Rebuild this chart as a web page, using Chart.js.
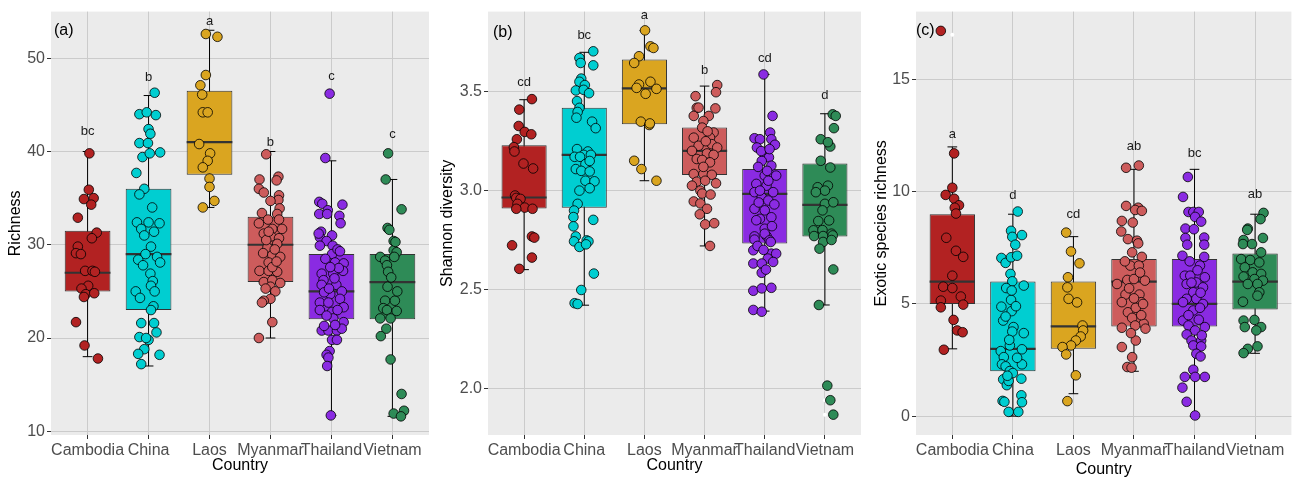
<!DOCTYPE html>
<html><head><meta charset="utf-8">
<script src="https://cdn.jsdelivr.net/npm/chart.js@4.4.0/dist/chart.umd.min.js"></script>
<style>
html,body{margin:0;padding:0;background:#fff;}
#wrap{position:relative;width:1297px;height:479px;overflow:hidden;}
canvas{position:absolute;top:0;}
</style></head><body>
<div id="wrap">
<canvas id="ca" width="436" height="479" style="left:0px"></canvas>
<canvas id="cb" width="434" height="479" style="left:436px"></canvas>
<canvas id="cc" width="427" height="479" style="left:870px"></canvas>
</div>
<script>
const countries = ["Cambodia","China","Laos","Myanmar","Thailand","Vietnam"];
const colors = ["#B22222","#00CED1","#DAA520","#CD5C5C","#8A2BE2","#2E8B57"];

// ---------- Panel (a) Richness ----------
const richLo  = [18, 17, 34, 20, 11.7, 11.6];
const richQ1  = [25, 23, 37.5, 26, 22, 22];
const richMed = [27, 29, 41, 30, 25, 26];
const richQ3  = [31.5, 36, 46.5, 33, 29, 29];
const richHi  = [40, 46, 53, 40, 39, 37];
const richLetters = ["bc","b","a","b","c","c"];
const richLetterY = [42.1, 47.9, 54.0, 41.0, 48.1, 41.8];
const richTicks = [10,20,30,40,50];
const richOutliers = [[4,46.2],[5,39.8]];
const richVals = [
 [39.8,35.9,34.9,35.0,34.3,32.9,31.3,30.7,29.8,29.1,29.0,27.2,27.2,27.1,25.6,25.3,24.7,24.4,24.8,21.7,19.2,17.8],
 [46.3,44.0,44.2,43.9,42.4,41.9,40.9,40.9,39.4,39.8,39.9,37.7,36.0,35.4,34.0,32.4,32.4,32.3,31.7,31.4,31.0,29.8,29.0,28.7,28.4,28.1,27.8,26.9,26.1,25.6,25.0,25.0,24.3,23.4,23.0,21.6,21.6,20.1,19.8,20.6,20.0,18.8,18.3,18.2,17.2],
 [52.6,52.3,48.2,47.1,46.1,44.2,44.2,40.8,39.8,39.0,38.3,37.1,36.2,34.7,34.0],
 [39.7,37.3,36.9,37.0,36.0,35.6,35.3,34.8,34.7,33.9,33.4,33.3,32.7,32.3,32.7,31.7,31.7,31.2,30.9,30.7,30.1,29.7,29.1,28.9,28.7,28.1,27.2,27.2,27.1,26.0,26.2,25.9,25.5,25.0,24.2,24.0,23.8,21.7,20.0,29.5,30.5,27.6,25.3,28.2,31.4],
 [46.2,39.3,34.6,34.4,34.3,33.7,33.3,33.3,33.1,32.3,31.4,31.0,30.8,31.2,30.4,29.9,29.9,29.0,28.1,28.0,26.9,26.9,27.2,26.2,25.7,25.7,25.0,24.7,23.8,23.8,24.2,23.0,23.3,22.8,22.1,21.7,20.8,20.8,20.8,21.0,19.8,19.8,18.6,18.2,17.9,17.0,11.7,29.5,28.5,27.5,27.6,26.4,24.9,23.0,22.4,29.3,25.3,21.4,21.3],
 [39.8,37.0,33.8,31.8,31.6,30.4,28.7,28.3,29.4,29.2,27.8,28.7,27.1,25.5,24.0,24.0,23.2,23.0,22.9,22.1,22.1,21.0,20.2,17.7,14.0,11.9,12.2,11.6,30.3,26.5,25.0]
];
const richJit = [
 [.03,.02,-.06,.10,.06,-.16,.15,.07,-.16,-.19,-.11,-.04,.08,.12,.01,-.10,-.03,-.06,.11,-.19,-.05,.17],
 [.10,-.15,-.03,.12,0,.03,-.15,-.01,-.10,.02,.19,-.20,-.07,-.15,.06,-.19,0,.18,-.12,.09,-.07,.04,-.05,.14,-.17,.19,-.09,.03,.07,.04,.10,-.21,-.14,.08,.04,-.12,.09,-.15,0,.13,-.04,-.07,-.17,.18,-.12],
 [-.06,.13,-.06,-.15,-.12,-.11,-.03,-.17,.01,-.03,-.11,0,0,.08,-.11],
 [-.07,.13,.10,-.18,-.19,-.11,.14,.13,0,.15,-.14,.11,-.04,-.19,.14,.19,.03,-.11,.01,.14,.11,-.05,-.12,.03,.16,-.03,-.18,-.03,.11,-.11,.03,.16,0,.08,0,-.11,-.14,.03,-.19,.07,-.07,.03,-.08,.10,-.03],
 [-.03,-.10,-.20,-.15,.18,-.06,-.20,-.07,.13,.15,-.17,.01,-.19,-.21,-.08,.02,-.19,.01,.06,.20,-.16,.03,.19,-.13,.08,-.16,.17,-.02,-.19,-.05,.14,-.19,.20,.01,.03,.20,-.16,-.05,.09,.17,.01,.09,-.03,-.08,-.05,-.07,-.01,.10,-.10,.12,-.02,.05,-.12,.10,-.08,.14,-.04,.06,-.12],
 [-.07,-.11,.15,-.08,-.05,.02,-.20,-.12,.02,.07,-.09,.03,-.07,-.08,-.12,.04,-.15,-.09,.07,-.20,-.03,-.10,-.19,-.03,.15,.02,.19,.14,.05,-.02,.08]
];

// ---------- Panel (b) Shannon diversity ----------
const shanLo  = [2.60, 2.42, 3.05, 2.72, 2.39, 2.421];
const shanQ1  = [2.91, 2.913, 3.336, 3.079, 2.732, 2.768];
const shanMed = [2.965, 3.181, 3.517, 3.201, 2.983, 2.928];
const shanQ3  = [3.23, 3.419, 3.663, 3.319, 3.109, 3.137];
const shanHi  = [3.46, 3.70, 3.81, 3.529, 3.588, 3.389];
const shanLetters = ["cd","bc","a","b","cd","d"];
const shanLetterY = [3.549, 3.784, 3.886, 3.608, 3.671, 3.482];
const shanTicks = [2.0, 2.5, 3.0, 3.5];
const shanOutliers = [[5,2.013],[5,1.939],[5,1.866]];
const shanVals = [
 [3.463,3.41,3.327,3.297,3.285,3.26,3.22,3.198,3.137,3.112,2.975,2.963,2.958,2.933,2.914,2.908,2.908,2.768,2.762,2.723,2.661,2.604],
 [3.705,3.671,3.646,3.634,3.567,3.551,3.534,3.507,3.51,3.493,3.453,3.419,3.398,3.369,3.349,3.316,3.21,3.198,3.181,3.181,3.171,3.171,3.134,3.15,3.109,3.1,3.097,3.05,3.047,3.0,3.012,2.933,2.899,2.866,2.852,2.819,2.768,2.748,2.743,2.743,2.715,2.728,2.58,2.497,2.43,2.426],
 [3.811,3.73,3.722,3.68,3.646,3.537,3.551,3.515,3.49,3.349,3.332,3.34,3.151,3.109,3.05,3.52],
 [3.534,3.498,3.478,3.419,3.416,3.378,3.378,3.352,3.319,3.294,3.268,3.268,3.227,3.235,3.218,3.201,3.188,3.181,3.16,3.155,3.143,3.084,3.084,3.08,3.045,3.05,3.037,3.025,3.0,2.985,2.945,2.935,2.908,2.829,2.835,2.72,2.88,2.98,3.12,3.30,3.42,3.25],
 [3.588,3.378,3.294,3.265,3.26,3.26,3.218,3.232,3.168,3.168,3.15,3.126,3.12,3.076,3.076,3.034,3.025,2.992,2.992,2.967,2.95,2.908,2.9,2.857,2.865,2.807,2.768,2.77,2.752,2.782,2.748,2.698,2.681,2.681,2.656,2.631,2.631,2.639,2.584,2.493,2.505,2.508,2.396,2.387,3.05,2.94,2.82,2.72,3.10,2.70,2.93,3.2,3.21,2.85,2.6,2.74,3.0],
 [3.386,3.378,3.316,3.26,3.223,3.245,3.151,3.117,3.025,3.017,3.0,2.992,2.933,2.941,2.9,2.846,2.849,2.799,2.8,2.782,2.77,2.77,2.773,2.74,2.75,2.706,2.601,2.421,2.013,1.939,1.866]
];
const shanJit = [
 [.13,-.08,-.09,.01,.12,-.12,-.17,-.16,-.01,.15,-.15,-.13,-.06,-.11,.01,.14,-.13,.13,.17,-.20,.13,-.08],
 [.15,-.08,-.06,.15,-.05,-.08,.01,-.14,-.01,.08,-.12,-.08,-.11,-.13,.13,.19,-.12,.06,-.01,.11,-.16,-.07,.02,.09,-.14,-.05,.09,.02,.17,-.08,.09,-.11,-.17,-.18,.15,-.18,-.14,.04,-.17,.07,-.08,.03,.16,-.05,-.16,-.11],
 [.01,.10,.15,-.09,-.17,-.09,.10,.20,.02,-.06,.08,.09,-.17,-.05,.20,-.13],
 [.21,.19,-.15,-.13,.18,-.18,.07,-.02,-.04,.15,-.18,.09,-.10,.12,.21,-.21,.04,.15,-.13,-.04,.09,-.18,-.02,.12,-.13,.01,.19,-.21,-.07,-.04,-.18,-.07,.04,.01,.16,.09,-.08,.10,-.02,.05,-.10,.02],
 [-.02,.13,.09,-.17,-.08,.11,-.13,.17,0,.07,-.05,.11,-.11,0,.19,-.14,.03,-.17,.14,-.05,.06,-.17,0,-.08,.11,0,-.17,.03,-.17,0,.08,-.19,.11,.19,.05,-.19,-.05,.14,-.05,-.19,-.05,.11,-.19,-.05,.06,-.10,.12,-.12,.04,-.02,.16,-.06,.08,-.14,.02,.10,-.08],
 [.13,.18,.15,-.07,.09,.05,-.07,.09,.05,-.12,0,-.15,0,.14,-.04,-.11,.07,-.19,-.04,.11,-.18,-.03,.13,-.03,.11,-.09,.14,-.10,.04,.09,.14]
];

// ---------- Panel (c) Exotic species richness ----------
const exoLo  = [3, 0, 1, 2, 0, 2.8];
const exoQ1  = [5, 2, 3, 4, 4, 4.75];
const exoMed = [6, 3, 4, 6, 5, 6];
const exoQ3  = [9, 6, 6, 7, 7, 7.25];
const exoHi  = [12, 9, 8, 11, 11, 9];
const exoLetters = ["a","d","cd","ab","bc","ab"];
const exoLetterY = [12.55, 9.84, 9.0, 12.03, 11.71, 9.86];
const exoTicks = [0, 5, 10, 15];
const exoOutliers = [[0,17.0]];
const exoVals = [
 [17.17,11.71,10.18,9.86,9.69,9.4,9.29,9.03,7.95,7.37,7.1,6.26,5.77,5.71,5.15,5.33,4.97,4.85,4.29,3.82,3.74,2.96],
 [9.12,8.26,8.07,7.99,7.64,7.05,6.83,7.08,7.15,6.34,6.01,5.71,5.82,5.18,4.88,4.68,4.26,4.44,3.97,3.77,3.7,3.15,2.98,2.9,2.63,2.31,2.22,2.01,1.92,2.31,1.67,1.64,1.38,1.57,0.93,0.68,0.64,0.62,0.19,0.19,3.4,2.6,5.6,4.9,1.8],
 [8.18,7.34,6.81,6.19,5.74,5.23,5.07,4.04,3.82,3.55,3.37,3.15,3.08,2.75,1.82,0.67],
 [11.07,11.17,9.37,9.29,9.19,9.15,8.7,8.63,8.23,7.89,7.82,7.7,7.3,7.1,6.71,6.71,6.04,6.07,6.11,5.89,5.42,5.42,5.08,5.08,4.63,4.83,4.38,4.12,3.94,4.04,3.9,3.37,3.08,2.63,2.19,2.16,6.4,5.7,5.0,6.9,5.25,4.5,3.7],
 [10.66,9.77,9.1,9.1,9.1,8.88,8.67,8.36,8.33,7.96,7.94,7.64,7.64,7.15,7.1,6.71,6.26,6.26,6.19,5.89,5.96,5.74,5.52,5.23,5.23,5.0,5.08,4.71,4.83,4.26,4.04,3.97,3.82,3.64,3.37,3.37,3.15,3.11,2.78,2.66,2.07,1.75,1.75,1.75,1.27,0.64,0.03,6.5,6.9,5.5,4.5,4.3,5.95,3.6],
 [9.06,8.78,8.36,8.3,7.94,7.85,7.67,7.67,7.3,7.0,6.96,6.85,6.63,6.41,6.34,6.22,6.11,6.04,5.89,5.89,5.52,5.1,5.37,4.26,4.29,3.97,3.97,3.82,3.11,3.0,2.81]
];
const exoJit = [
 [-.19,.03,0,-.11,.03,.11,.04,.06,-.10,.06,.18,0,-.15,0,-.19,.14,.18,-.19,.02,.08,.17,-.14],
 [.08,-.03,.15,-.01,.04,-.19,-.12,-.03,.07,-.04,-.01,-.11,.18,-.03,-.19,-.02,-.16,-.12,.01,-.01,.18,-.05,.15,-.20,-.15,-.18,-.12,-.05,0,.15,.14,-.16,-.10,-.07,.14,-.17,-.14,.15,-.07,.09,-.06,.07,-.02,.05,-.09],
 [-.12,-.04,.10,-.09,-.10,-.08,.06,.15,.16,.12,.04,-.04,-.18,-.12,.04,-.10],
 [-.13,.08,-.13,.07,.02,.13,-.20,-.02,-.21,-.10,.05,.07,-.03,.13,-.06,.08,.18,-.11,0,-.28,-.14,.09,-.20,.12,-.10,.03,-.03,.16,-.20,.02,.19,.03,-.20,-.03,-.11,-.04,.10,-.08,.15,-.15,0,.12,-.05],
 [-.11,-.19,-.10,-.02,.07,.01,.11,-.15,-.01,.16,-.15,-.12,.16,-.20,.16,.09,-.16,-.07,.17,-.13,.03,.14,-.02,-.13,.03,.14,-.19,-.02,.09,-.19,-.10,.17,.01,-.13,-.05,.11,-.02,.11,.03,.10,-.02,-.16,.01,.17,-.20,-.13,.01,.05,-.08,.10,-.10,.07,-.05,.12],
 [.14,.09,-.12,-.13,.13,-.19,-.20,-.05,.10,-.23,-.08,.07,-.17,-.04,.10,-.19,-.01,.13,-.12,.04,.07,-.20,.04,-.19,-.01,.10,-.17,.02,.04,-.12,-.19]
];

// ---------- drawing ----------
const FONT = "'Liberation Sans', Arial, Helvetica, sans-serif";
const BOXW = 0.75, CAPW = 0.16;
const GRID = '#CBCBCB';

function makePanel(id, P){
  const whisk = [], med = [], caps = [];
  countries.forEach((c, i) => {
    const x = i + 1;
    whisk.push({x, y:P.lo[i]}, {x, y:P.hi[i]}, {x, y:null});
    med.push({x:x-BOXW/2, y:P.med[i]}, {x:x+BOXW/2, y:P.med[i]}, {x, y:null});
    caps.push({x:x-CAPW/2, y:P.hi[i]}, {x:x+CAPW/2, y:P.hi[i]}, {x, y:null},
              {x:x-CAPW/2, y:P.lo[i]}, {x:x+CAPW/2, y:P.lo[i]}, {x, y:null});
  });
  const datasets = [
    {type:'line', data:whisk, borderColor:'#000', borderWidth:1, pointRadius:0, spanGaps:false, fill:false, order:6},
    {type:'bar', data:countries.map((c,i)=>({x:i+1, y:[P.q1[i], P.q3[i]]})), backgroundColor:colors,
     borderColor:'#333333', borderWidth:1, borderSkipped:false, categoryPercentage:1, barPercentage:BOXW, order:5},
    {type:'line', data:med, borderColor:'#333333', borderWidth:2.2, pointRadius:0, spanGaps:false, fill:false, order:4},
    {type:'line', data:caps, borderColor:'#000', borderWidth:1, pointRadius:0, spanGaps:false, fill:false, order:3},
    {type:'scatter', data:P.out.map(([i,v])=>({x:i+1, y:v})), pointRadius:2, backgroundColor:'#FFFFFF', borderWidth:0, order:2}
  ];
  countries.forEach((c, i) => {
    datasets.push({type:'scatter', data:P.vals[i].map((v,k)=>({x:i+1+P.jit[i][k], y:v})),
      backgroundColor:colors[i], borderColor:'#000', borderWidth:0.8, pointRadius:4.8, order:1});
  });
  const bg = {id:'bg', beforeDraw(ch){const {ctx, chartArea:a}=ch; ctx.save(); ctx.fillStyle='#EBEBEB'; ctx.fillRect(a.left,a.top,a.right-a.left,a.bottom-a.top); ctx.restore();}};
  const annot = {id:'annot', afterDatasetsDraw(ch){
    const {ctx, chartArea:a, scales:{x, y}} = ch;
    ctx.save();
    ctx.fillStyle='#1A1A1A'; ctx.font='13px '+FONT; ctx.textAlign='center'; ctx.textBaseline='middle';
    P.letters.forEach((t,i)=>ctx.fillText(t, x.getPixelForValue(i+1), y.getPixelForValue(P.letterY[i])));
    ctx.fillStyle='#000'; ctx.font='16px '+FONT; ctx.textAlign='left';
    ctx.fillText(P.tag, a.left+P.tagDx, a.top+P.tagDy);
    ctx.restore();
  }};
  const gridOpts = {color:GRID, lineWidth:1, tickColor:'#333333', tickLength:4, drawTicks:true, offset:false};
  new Chart(document.getElementById(id), {
    type:'scatter',
    data:{datasets},
    options:{
      responsive:false, animation:false, events:[],
      layout:{padding:{top:10, right:P.padR, left:0, bottom:0}},
      plugins:{legend:{display:false}, tooltip:{enabled:false}},
      scales:{
        x:{type:'linear', bounds:'data', min:0.4, max:6.6, offset:false,
           afterBuildTicks:s=>{s.ticks = countries.map((c,i)=>({value:i+1}));},
           afterFit:s=>{s.height = 44;},
           ticks:{autoSkip:false, maxRotation:0, minRotation:0, padding:2, color:'#4D4D4D',
                  font:{family:FONT, size:16}, callback:(v,i)=>countries[i]},
           grid:gridOpts, border:{display:false},
           title:{display:true, text:'Country', color:'#000', font:{family:FONT, size:16}, padding:{top:0, bottom:P.xTitlePad}}},
        y:{type:'linear', bounds:'data', min:P.ymin, max:P.ymax,
           afterBuildTicks:s=>{s.ticks = P.yticks.map(v=>({value:v}));},
           afterFit:s=>{s.width = P.yw;},
           ticks:{autoSkip:false, padding:2, color:'#4D4D4D', font:{family:FONT, size:16}, callback:v=>Number(v).toFixed(P.dec)},
           grid:gridOpts, border:{display:false},
           title:{display:true, text:P.ytitle, color:'#000', font:{family:FONT, size:16}, padding:{top:P.yTitlePad, bottom:0}}}
      }
    },
    plugins:[bg, annot]
  });
}

makePanel('ca', {lo:richLo, q1:richQ1, med:richMed, q3:richQ3, hi:richHi, vals:richVals, jit:richJit, out:richOutliers,
  letters:richLetters, letterY:richLetterY, yticks:richTicks, ymin:9.6, ymax:55, dec:0, ytitle:'Richness',
  tag:'(a)', tagDx:3, tagDy:19, yw:51, padR:7, yTitlePad:6, xTitlePad:4});
makePanel('cb', {lo:shanLo, q1:shanQ1, med:shanMed, q3:shanQ3, hi:shanHi, vals:shanVals, jit:shanJit, out:shanOutliers,
  letters:shanLetters, letterY:shanLetterY, yticks:shanTicks, ymin:1.763, ymax:3.906, dec:1, ytitle:'Shannon diversity',
  tag:'(b)', tagDx:5, tagDy:21, yw:52, padR:9, yTitlePad:2, xTitlePad:4});
makePanel('cc', {lo:exoLo, q1:exoQ1, med:exoMed, q3:exoQ3, hi:exoHi, vals:exoVals, jit:exoJit, out:exoOutliers,
  letters:exoLetters, letterY:exoLetterY, yticks:exoTicks, ymin:-0.84, ymax:18.03, dec:0, ytitle:'Exotic species richness',
  tag:'(c)', tagDx:0, tagDy:19, yw:46, padR:3, yTitlePad:2, xTitlePad:0});
</script>
</body></html>
